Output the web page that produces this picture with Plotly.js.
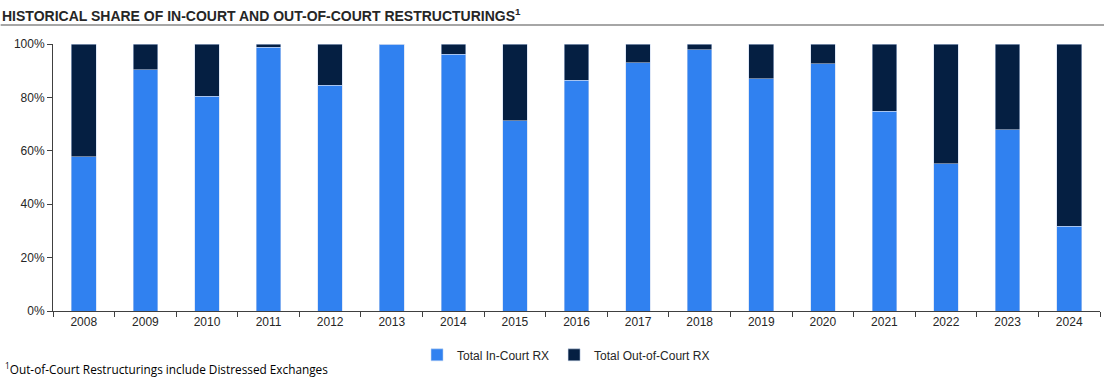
<!DOCTYPE html>
<html>
<head>
<meta charset="utf-8">
<script src="https://cdn.plot.ly/plotly-3.0.1.min.js"></script>
<style>
html,body{margin:0;padding:0;background:#fff;}
#chart{width:1104px;height:380px;}
</style>
</head>
<body>
<div id="chart"></div>
<script>
const years = ["2008","2009","2010","2011","2012","2013","2014","2015","2016","2017","2018","2019","2020","2021","2022","2023","2024"];
const inCourt = [57.7, 90.3, 80.4, 98.8, 84.6, 100, 96.1, 71.3, 86.5, 92.9, 97.8, 86.9, 92.6, 74.8, 55.1, 67.8, 31.7];
const outCourt = inCourt.map(v => +(100 - v).toFixed(1));
const yTicks = [0, 20, 40, 60, 80, 100];
const yTickLabels = ["0%", "20%", "40%", "60%", "80%", "100%"];

const font = "Liberation Sans, Arial, sans-serif";

const traces = [
  {
    type: "bar", name: "Total In-Court RX", x: years, y: inCourt,
    marker: {color: "#3081F0", line: {color: "rgba(200,215,240,0.9)", width: 0.6}},
    hoverinfo: "x+y"
  },
  {
    type: "bar", name: "Total Out-of-Court RX", x: years, y: outCourt,
    marker: {color: "#051F42", line: {color: "rgba(200,215,240,0.9)", width: 0.6}},
    hoverinfo: "x+y"
  }
];

const layout = {
  width: 1104, height: 380,
  margin: {l: 53, r: 4, t: 44, b: 69},
  barmode: "stack",
  bargap: 0.6,
  paper_bgcolor: "#fff", plot_bgcolor: "#fff",
  font: {family: font, size: 12, color: "#262626"},
  showlegend: true,
  legend: {
    orientation: "h", x: 0.49, xanchor: "center", y: -0.11, yanchor: "top",
    font: {family: font, size: 12, color: "#262626"},
    itemwidth: 30, traceorder: "normal", itemclick: false
  },
  xaxis: {
    type: "category",
    showline: true, linecolor: "#404040", linewidth: 1,
    ticks: "outside", tickson: "boundaries", ticklen: 5, tickcolor: "#404040",
    tickfont: {family: font, size: 12, color: "#262626"},
    showgrid: false, zeroline: false, fixedrange: true
  },
  yaxis: {
    range: [0, 100],
    tickvals: yTicks, ticktext: yTickLabels,
    showline: true, linecolor: "#404040", linewidth: 1,
    ticks: "outside", ticklen: 5, tickcolor: "#404040",
    tickfont: {family: font, size: 12, color: "#262626"},
    showgrid: false, zeroline: false, fixedrange: true
  },
  shapes: [
    {type: "line", xref: "paper", yref: "paper", x0: -0.05, x1: 1.004,
     y0: 1 + 19/267, y1: 1 + 19/267, line: {color: "#A6A6A6", width: 2}}
  ],
  annotations: [
    {xref: "paper", yref: "paper", x: -53/1047, y: 1 + 29/267, xanchor: "left", yanchor: "middle",
     text: "<b>HISTORICAL SHARE OF IN-COURT AND OUT-OF-COURT RESTRUCTURINGS<sup>1</sup></b>",
     showarrow: false, font: {family: font, size: 14, color: "#262626"}},
    {xref: "paper", yref: "paper", x: -50/1047, y: -57/267, xanchor: "left", yanchor: "middle",
     text: "<sup>1</sup>Out-of-Court Restructurings include Distressed Exchanges",
     showarrow: false, font: {family: "Open Sans, sans-serif", size: 11.8, color: "#000"}}
  ]
};

Plotly.newPlot("chart", traces, layout, {displayModeBar: false, staticPlot: true});
</script>
</body>
</html>
